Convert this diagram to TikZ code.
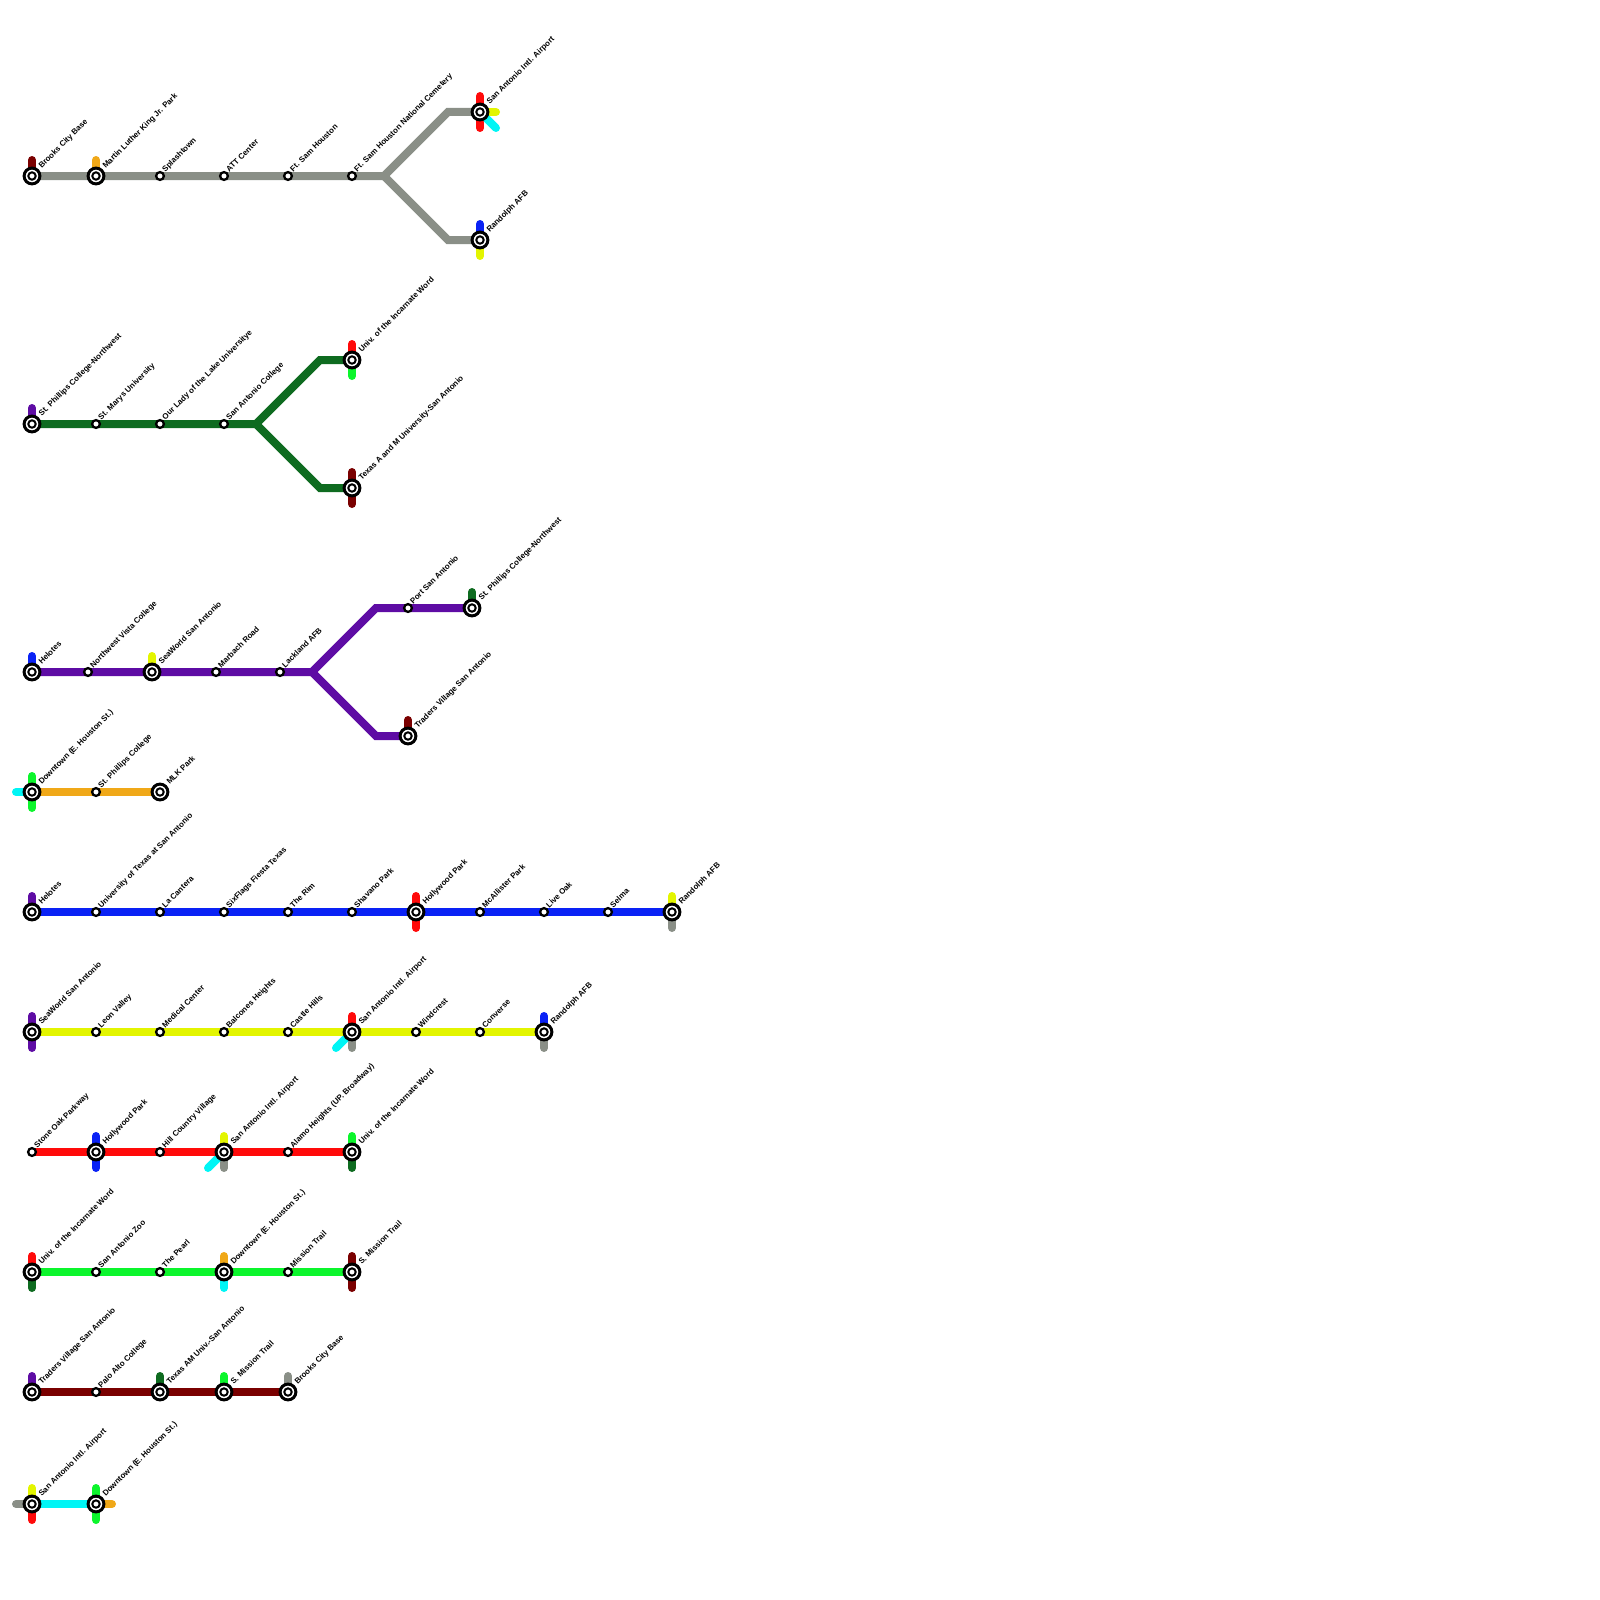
\documentclass[tikz,border=0pt]{standalone}
\usepackage{fontspec}
\setmainfont{Liberation Sans}
\usetikzlibrary{calc}
\definecolor{cgray}{HTML}{8A8F87}
\definecolor{cmaroon}{HTML}{7A0000}
\definecolor{corange}{HTML}{F0A818}
\definecolor{cdkgreen}{HTML}{0E6B20}
\definecolor{cpurple}{HTML}{5E0CA4}
\definecolor{cgreen}{HTML}{0CF52C}
\definecolor{ccyan}{HTML}{00F5F5}
\definecolor{cblue}{HTML}{0A22F5}
\definecolor{cyellow}{HTML}{E3F500}
\definecolor{cred}{HTML}{FF0A0A}
\tikzset{
  mainline/.style={line width=4pt,line join=miter},
  stubline/.style={line width=4pt,line cap=round},
  smallstn/.style={circle,draw=black,fill=white,line width=1.15pt,minimum size=3.9pt,inner sep=0pt,outer sep=0pt},
  termouter/.style={circle,draw=black,fill=white,line width=1.5pt,minimum size=7.9pt,inner sep=0pt,outer sep=0pt},
  terminner/.style={circle,draw=black,fill=white,line width=1pt,minimum size=3.7pt,inner sep=0pt,outer sep=0pt},
  lbl/.style={rotate=45,anchor=base west,inner sep=0pt,font=\fontsize{3.95pt}{4pt}\selectfont\bfseries,text=black},
}
% station nodes
\newcommand{\St}[4]{\node[smallstn] (#1) at (#2,#3) {};
  \node[lbl] (#1l) at (#2+5,#3-3.5) {#4};}
\newcommand{\Te}[4]{\node[termouter] (#1) at (#2,#3) {};
  \node[terminner] (#1i) at (#2,#3) {};
  \node[lbl] (#1l) at (#2+9.5,#3-7) {#4};}
% stub from a station position, drawn before the station
\newcommand{\Sb}[5]{\coordinate (#1a) at (#2,#3);
  \coordinate (#1b) at ($(#1a)+(#4)$);
  \draw[stubline,#5] (#1a) -- (#1b);}
\begin{document}
\begin{tikzpicture}[x=0.5pt,y=-0.5pt]
\useasboundingbox (0,0) rectangle (1600,1600);
% ---- stubs
\Sb{sa}{32}{176}{0,-16}{cmaroon}
\Sb{sb}{96}{176}{0,-16}{corange}
\Sb{sc}{480}{112}{0,-16}{cred}
\Sb{sd}{480}{112}{0,16}{cred}
\Sb{se}{480}{112}{16,0}{cyellow}
\Sb{sf}{480}{112}{16,16}{ccyan}
\Sb{sg}{480}{240}{0,-16}{cblue}
\Sb{sh}{480}{240}{0,16}{cyellow}
\Sb{si}{32}{424}{0,-16}{cpurple}
\Sb{sj}{352}{360}{0,-16}{cred}
\Sb{sk}{352}{360}{0,16}{cgreen}
\Sb{sl}{352}{488}{0,-16}{cmaroon}
\Sb{sm}{352}{488}{0,16}{cmaroon}
\Sb{sn}{32}{672}{0,-16}{cblue}
\Sb{so}{152}{672}{0,-16}{cyellow}
\Sb{sp}{472}{608}{0,-16}{cdkgreen}
\Sb{sq}{408}{736}{0,-16}{cmaroon}
\Sb{sr}{32}{792}{0,-16}{cgreen}
\Sb{ss}{32}{792}{0,16}{cgreen}
\Sb{st}{32}{792}{-16,0}{ccyan}
\Sb{su}{32}{912}{0,-16}{cpurple}
\Sb{sv}{416}{912}{0,-16}{cred}
\Sb{sw}{416}{912}{0,16}{cred}
\Sb{sx}{672}{912}{0,-16}{cyellow}
\Sb{sy}{672}{912}{0,16}{cgray}
\Sb{sz}{32}{1032}{0,-16}{cpurple}
\Sb{ta}{32}{1032}{0,16}{cpurple}
\Sb{tb}{352}{1032}{0,-16}{cred}
\Sb{tc}{352}{1032}{0,16}{cgray}
\Sb{td}{352}{1032}{-16,16}{ccyan}
\Sb{te}{544}{1032}{0,-16}{cblue}
\Sb{tf}{544}{1032}{0,16}{cgray}
\Sb{tg}{96}{1152}{0,-16}{cblue}
\Sb{th}{96}{1152}{0,16}{cblue}
\Sb{ti}{224}{1152}{0,-16}{cyellow}
\Sb{tj}{224}{1152}{0,16}{cgray}
\Sb{tk}{224}{1152}{-16,16}{ccyan}
\Sb{tl}{352}{1152}{0,-16}{cgreen}
\Sb{tm}{352}{1152}{0,16}{cdkgreen}
\Sb{tn}{32}{1272}{0,-16}{cred}
\Sb{to}{32}{1272}{0,16}{cdkgreen}
\Sb{tp}{224}{1272}{0,-16}{corange}
\Sb{tq}{224}{1272}{0,16}{ccyan}
\Sb{tr}{352}{1272}{0,-16}{cmaroon}
\Sb{ts}{352}{1272}{0,16}{cmaroon}
\Sb{tt}{32}{1392}{0,-16}{cpurple}
\Sb{tu}{160}{1392}{0,-16}{cdkgreen}
\Sb{tv}{224}{1392}{0,-16}{cgreen}
\Sb{tw}{288}{1392}{0,-16}{cgray}
\Sb{tx}{32}{1504}{0,-16}{cyellow}
\Sb{ty}{32}{1504}{0,16}{cred}
\Sb{tz}{32}{1504}{-16,0}{cgray}
\Sb{ua}{96}{1504}{0,-16}{cgreen}
\Sb{ub}{96}{1504}{0,16}{cgreen}
\Sb{uc}{96}{1504}{16,0}{corange}
% ---- branch points
\coordinate (gj) at (384,176);
\coordinate (gt) at (448,112);
\coordinate (gb) at (448,240);
\coordinate (dj) at (256,424);
\coordinate (dt) at (320,360);
\coordinate (db) at (320,488);
\coordinate (pj) at (312,672);
\coordinate (pt) at (376,608);
\coordinate (pb) at (376,736);
% ---- line anchors at station centres
\coordinate (La) at (32,176); \coordinate (Lb) at (480,112); \coordinate (Lc) at (480,240);
\coordinate (Ld) at (32,424); \coordinate (Le) at (352,360); \coordinate (Lf) at (352,488);
\coordinate (Lg) at (32,672); \coordinate (Lh) at (472,608); \coordinate (Li) at (408,736);
\coordinate (Lj) at (32,792); \coordinate (Lk) at (160,792);
\coordinate (Ll) at (32,912); \coordinate (Lm) at (672,912);
\coordinate (Ln) at (32,1032); \coordinate (Lo) at (544,1032);
\coordinate (Lp) at (32,1152); \coordinate (Lq) at (352,1152);
\coordinate (Lr) at (32,1272); \coordinate (Ls) at (352,1272);
\coordinate (Lt) at (32,1392); \coordinate (Lu) at (288,1392);
\coordinate (Lv) at (32,1504); \coordinate (Lw) at (96,1504);
% ---- lines
\draw[mainline,cgray] (La) -- (gj) -- (gt) -- (Lb);
\draw[mainline,cgray] (gj) -- (gb) -- (Lc);
\draw[mainline,cdkgreen] (Ld) -- (dj) -- (dt) -- (Le);
\draw[mainline,cdkgreen] (dj) -- (db) -- (Lf);
\draw[mainline,cpurple] (Lg) -- (pj) -- (pt) -- (Lh);
\draw[mainline,cpurple] (pj) -- (pb) -- (Li);
\draw[mainline,corange] (Lj) -- (Lk);
\draw[mainline,cblue] (Ll) -- (Lm);
\draw[mainline,cyellow] (Ln) -- (Lo);
\draw[mainline,cred] (Lp) -- (Lq);
\draw[mainline,cgreen] (Lr) -- (Ls);
\draw[mainline,cmaroon] (Lt) -- (Lu);
\draw[mainline,ccyan] (Lv) -- (Lw);
% ---- stations
\Te{a1}{32}{176}{Brooks City Base}
\Te{a2}{96}{176}{Martin Luther King Jr. Park}
\St{a3}{160}{176}{Splashtown}
\St{a4}{224}{176}{ATT Center}
\St{a5}{288}{176}{Ft. Sam Houston}
\St{a6}{352}{176}{Ft. Sam Houston National Cemetery}
\Te{a7}{480}{112}{San Antonio Intl. Airport}
\Te{a8}{480}{240}{Randolph AFB}
\Te{b1}{32}{424}{St. Phillips College-Northwest}
\St{b2}{96}{424}{St. Marys University}
\St{b3}{160}{424}{Our Lady of the Lake Universitye}
\St{b4}{224}{424}{San Antonio College}
\Te{b5}{352}{360}{Univ. of the Incarnate Word}
\Te{b6}{352}{488}{Texas A and M University-San Antonio}
\Te{c1}{32}{672}{Helotes}
\St{c2}{88}{672}{Northwest Vista College}
\Te{c3}{152}{672}{SeaWorld San Antonio}
\St{c4}{216}{672}{Marbach Road}
\St{c5}{280}{672}{Lackland AFB}
\St{c6}{408}{608}{Port San Antonio}
\Te{c7}{472}{608}{St. Phillips College-Northwest}
\Te{c8}{408}{736}{Traders Village San Antonio}
\Te{d1}{32}{792}{Downtown (E. Houston St.)}
\St{d2}{96}{792}{St. Phillips College}
\Te{d3}{160}{792}{MLK Park}
\Te{e1}{32}{912}{Helotes}
\St{e2}{96}{912}{University of Texas at San Antonio}
\St{e3}{160}{912}{La Cantera}
\St{e4}{224}{912}{SixFlags Fiesta Texas}
\St{e5}{288}{912}{The Rim}
\St{e6}{352}{912}{Shavano Park}
\Te{e7}{416}{912}{Hollywood Park}
\St{e8}{480}{912}{McAllister Park}
\St{e9}{544}{912}{Live Oak}
\St{e10}{608}{912}{Selma}
\Te{e11}{672}{912}{Randolph AFB}
\Te{f1}{32}{1032}{SeaWorld San Antonio}
\St{f2}{96}{1032}{Leon Valley}
\St{f3}{160}{1032}{Medical Center}
\St{f4}{224}{1032}{Balcones Heights}
\St{f5}{288}{1032}{Castle Hills}
\Te{f6}{352}{1032}{San Antonio Intl. Airport}
\St{f7}{416}{1032}{Windcrest}
\St{f8}{480}{1032}{Converse}
\Te{f9}{544}{1032}{Randolph AFB}
\St{g1}{32}{1152}{Stone Oak Parkway}
\Te{g2}{96}{1152}{Hollywood Park}
\St{g3}{160}{1152}{Hill Country Village}
\Te{g4}{224}{1152}{San Antonio Intl. Airport}
\St{g5}{288}{1152}{Alamo Heights (UP. Broadway)}
\Te{g6}{352}{1152}{Univ. of the Incarnate Word}
\Te{h1}{32}{1272}{Univ. of the Incarnate Word}
\St{h2}{96}{1272}{San Antonio Zoo}
\St{h3}{160}{1272}{The Pearl}
\Te{h4}{224}{1272}{Downtown (E. Houston St.)}
\St{h5}{288}{1272}{Mission Trail}
\Te{h6}{352}{1272}{S. Mission Trail}
\Te{i1}{32}{1392}{Traders Village San Antonio}
\St{i2}{96}{1392}{Palo Alto College}
\Te{i3}{160}{1392}{Texas AM Univ.-San Antonio}
\Te{i4}{224}{1392}{S. Mission Trail}
\Te{i5}{288}{1392}{Brooks City Base}
\Te{j1}{32}{1504}{San Antonio Intl. Airport}
\Te{j2}{96}{1504}{Downtown (E. Houston St.)}
\end{tikzpicture}
\end{document}
